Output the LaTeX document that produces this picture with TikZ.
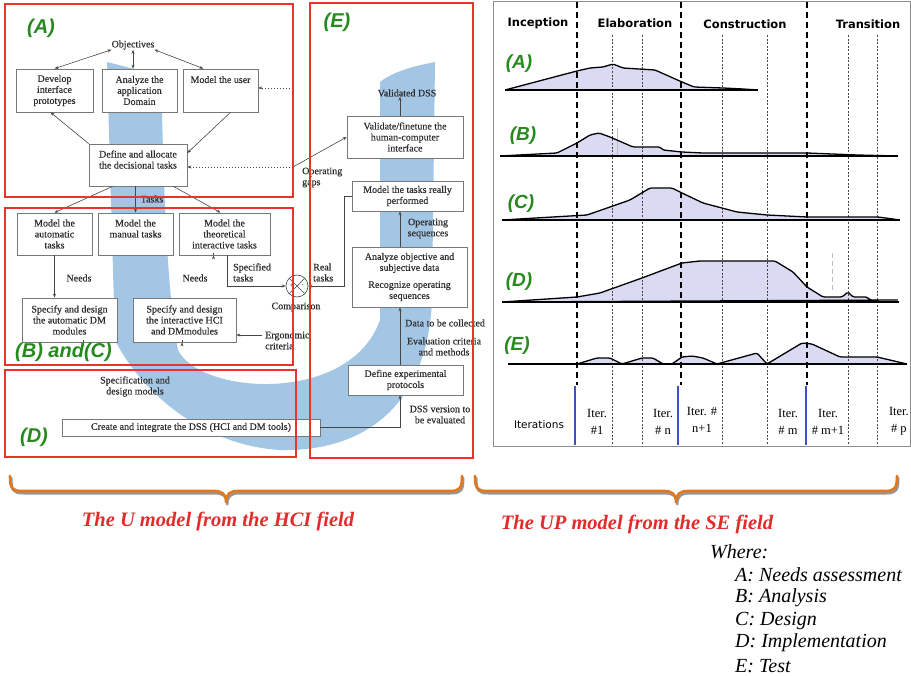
\documentclass[tikz,border=0pt]{standalone}
\usepackage{fontspec}
\setmainfont{Liberation Serif}
\newfontfamily\arialfont{Liberation Sans}
\newfontfamily\phasefont{DejaVu Sans}
\newfontfamily\boxserif[FakeBold=0.35]{Liberation Serif}
\usetikzlibrary{arrows.meta,calc}

\definecolor{framered}{RGB}{232,52,44}
\definecolor{ugreen}{RGB}{38,138,30}
\definecolor{ublue}{RGB}{164,198,229}
\definecolor{boxline}{RGB}{120,120,120}
\definecolor{wire}{RGB}{70,70,70}
\definecolor{boxtext}{RGB}{45,45,45}
\definecolor{lav}{RGB}{218,218,243}
\definecolor{iterblue}{RGB}{60,80,190}
\definecolor{braceorange}{RGB}{228,118,28}
\definecolor{braceshade}{RGB}{150,150,150}
\definecolor{captionred}{RGB}{226,44,44}
\definecolor{panelgray}{RGB}{140,140,140}

\newcommand\diagfont{\boxserif\fontsize{10}{11}\selectfont}

% effort curves of the UP chart (closed along their base line)
\newcommand\upA[1]{\path[#1] (505,90) -- (577,71) -- (590,68) -- (603,67) -- (613,64) -- (623,68) -- (655,70) -- (682,82) -- (694,87) -- (723,88) -- (743,89) -- (758,90) -- cycle;}
\newcommand\upB[1]{\path[#1] (500,156) -- (557,153) -- (577,143) -- (590,135) -- (599,133) -- (610,137) -- (633,147) -- (660,147) -- (663,150) -- (682,152) -- (703,153) -- (807,153) -- (857,155) -- (898,156) -- cycle;}
\newcommand\upC[1]{\path[#1] (502,220) -- (587,215) -- (610,207) -- (630,200) -- (650,188) -- (672,188) -- (682,193) -- (703,203) -- (737,212) -- (767,215) -- (807,217) -- (878,217) -- (900,220) -- cycle;}
\newcommand\upD[1]{\path[#1] (502,302) -- (577,297) -- (600,293) -- (642,278) -- (682,263) -- (700,261) -- (775,261) -- (793,272) -- (807,287) -- (823,297) -- (842,297) -- (848,292) -- (853,297) -- (867,297) -- (870,300) -- (899,300) -- cycle;}
\newcommand\upE[1]{\path[#1] (577,364) -- (597,358) -- (610,358) -- (622,364) -- (642,358) -- (653,358) -- (663,364) -- (672,364) -- (682,357) -- (692,356) -- (703,358) -- (717,364) -- (757,353) -- (767,364) -- (802,343) -- (812,344) -- (840,357) -- (877,357) -- (907,364) -- cycle;}

\begin{document}
\begin{tikzpicture}[x=1pt,y=-1pt,
  ubox/.style={draw=boxline, fill=white, line width=0.7pt, align=center, inner sep=1pt, text=boxtext, font=\diagfont},
  lbl/.style={font=\diagfont, text=boxtext, inner sep=0pt},
  arr/.style={draw=wire, line width=0.6pt, -{Stealth[length=4pt,width=3pt]}},
  darr/.style={draw=wire, line width=0.6pt, {Stealth[length=4pt,width=3pt]}-{Stealth[length=4pt,width=3pt]}},
  dasharr/.style={arr, dash pattern=on 1.5pt off 1.5pt},
  plainline/.style={draw=wire, line width=0.6pt},
  frame/.style={draw=framered, line width=1.3pt},
  glabel/.style={text=ugreen, inner sep=0pt, font=\arialfont\bfseries\itshape\fontsize{20}{22}\selectfont},
  rlabel/.style={text=ugreen, inner sep=0pt, font=\arialfont\bfseries\itshape\fontsize{19}{21}\selectfont},
  phase/.style={inner sep=0pt, font=\phasefont\bfseries\fontsize{11.5}{13}\selectfont},
  iter/.style={inner sep=0pt, align=center, font=\fontsize{12.5}{17}\selectfont},
  effort/.style={fill=lav, rounded corners=1.5pt},
  effortline/.style={draw=black, line width=1.3pt, rounded corners=1.5pt, line join=round},
  baseline/.style={draw=black, line width=1.8pt},
  phasecut/.style={draw=black, line width=1.8pt, dash pattern=on 6pt off 4pt},
  itercut/.style={draw=wire, line width=0.7pt, dash pattern=on 2pt off 1.6pt},
  brace/.style={draw=braceorange, line width=2.6pt, line cap=round, line join=round},
  braceshadow/.style={draw=braceshade, line width=2.6pt, line cap=round, line join=round},
  caption/.style={text=captionred, inner sep=0pt, font=\bfseries\itshape\fontsize{20.5}{23}\selectfont},
  legend/.style={inner sep=0pt, anchor=west, font=\itshape\fontsize{20}{23}\selectfont}
]
\useasboundingbox (0,0) rectangle (911,676);
\fill[white] (0,0) rectangle (911,676);

% ---------------- the U model ----------------
% blue U in the background
\fill[ublue] (107,62) -- (162,76) -- (162,112)
  .. controls (164,200) and (168,300) .. (178,350)
  .. controls (200,395) and (350,405) .. (380,320)
  -- (380,82) .. controls (395,70) and (420,65) .. (435,62)
  -- (432,300) .. controls (428,400) and (370,452) .. (280,450)
  .. controls (200,445) and (140,390) .. (115,340) -- cycle;

% (A) needs assessment
\node[lbl] (obj) at (133,45) {Objectives};
\node[ubox, minimum width=77pt, minimum height=43pt] (dev) at (54.5,90.5) {Develop\\interface\\prototypes};
\node[ubox, minimum width=75pt, minimum height=43pt] (ana) at (139.5,90.5) {Analyze the\\application\\Domain};
\node[ubox, minimum width=75pt, minimum height=43pt] (usr) at (220.5,90.5) {Model the user\\\mbox{}\\\mbox{}};
\node[ubox, minimum width=98pt, minimum height=42pt] (def) at (138,165) {Define and allocate\\the decisional tasks\\\mbox{}};

% (B) and (C) analysis and design
\node[ubox, minimum width=75pt, minimum height=42pt] (aut) at (54.5,234) {Model the\\automatic\\tasks};
\node[ubox, minimum width=75pt, minimum height=42pt] (man) at (135.5,234) {Model the\\manual tasks\\\mbox{}};
\node[ubox, minimum width=91pt, minimum height=42pt] (the) at (224.5,234) {Model the\\theoretical\\interactive tasks};
\node[ubox, minimum width=95pt, minimum height=44pt] (sda) at (69.5,320) {Specify and design\\the automatic DM\\modules};
\node[ubox, minimum width=103pt, minimum height=44pt] (sdi) at (184.5,320) {Specify and design\\the interactive HCI\\and DMmodules};
\node[circle, draw=wire, line width=0.6pt, fill=white, minimum size=22pt, inner sep=0pt] (cmp) at (297,286) {};
\draw[plainline] (cmp.north west) -- (cmp.south east) (cmp.north east) -- (cmp.south west);
\node[inner sep=0pt, font=\fontsize{6}{6}\selectfont] (cmpplus) at (291.5,286) {+};
\node[inner sep=0pt, font=\fontsize{6}{6}\selectfont] (cmpminus) at (302.5,286) {-};

% (D) implementation
\node[ubox, minimum width=258pt, minimum height=17pt] (cre) at (191,427.5) {Create and integrate the DSS (HCI and DM tools)};

% (E) test
\node[ubox, minimum width=116pt, minimum height=42pt] (val) at (405,137) {Validate/finetune the\\human-computer\\interface};
\node[ubox, minimum width=111pt, minimum height=30pt] (mtr) at (407.5,196) {Model the tasks really\\performed};
\node[ubox, minimum width=115pt, minimum height=60pt] (anz) at (409.5,277) {Analyze objective and\\subjective data\\[6pt]Recognize operating\\sequences};
\node[ubox, minimum width=115pt, minimum height=30pt] (pro) at (405.5,380) {Define experimental\\protocols};
\node[lbl] (vdss) at (407,93) {Validated DSS};

% text on the connectors
\node[lbl] (tasks) at (152,199) {Tasks};
\node[lbl] (needs1) at (79,278) {Needs};
\node[lbl] (needs2) at (195,278) {Needs};
\node[lbl, align=left, anchor=west] (spec) at (233,272.5) {Specified\\tasks};
\node[lbl] (cmptxt) at (296,307) {Comparison};
\node[lbl, align=left, anchor=west] (real) at (313,272.5) {Real\\tasks};
\node[lbl, align=left, anchor=west] (erg) at (265,340.5) {Ergonomic\\criteria};
\node[lbl, align=center] (sdm) at (135,386.5) {Specification and\\design models};
\node[lbl, align=center] (dssv) at (440,414.5) {DSS version to\\be evaluated};
\node[lbl, align=left, anchor=west] (ogaps) at (302,177.5) {Operating\\gaps};
\node[lbl, align=center] (oseq) at (428,228.5) {Operating\\sequences};
\node[lbl, anchor=west] (data) at (405,323) {Data to be collected};
\node[lbl, align=center] (evalc) at (444,346.5) {Evaluation criteria\\and methods};

% connectors
\coordinate (gaptop) at (293,88);
\coordinate (gapjoin) at (293,167);
\coordinate (axis) at (400,0);
\coordinate (ergo) at (262,335);

\draw[darr] (obj.south west) -- (dev.north);
\draw[darr] (obj.south) -- (obj.south |- ana.north);
\draw[darr] (obj.south east) -- ($(usr.north)+(-17,0)$);
\draw[arr] (def.north west) -- ($(dev.south)+(-4,0)$);
\draw[arr] ($(usr.south)+(10,0)$) -- ($(def.east)+(0,-12)$);
\draw[dash pattern=on 1.5pt off 1.5pt, draw=wire, line width=0.6pt] (gaptop) -- (gapjoin);
\draw[dasharr] (gaptop) -- (gaptop -| usr.east);
\draw[dasharr] (gapjoin) -- (gapjoin -| def.east);
\draw[arr] (gapjoin) -- (val.west);

\draw[arr] ($(def.south west)+(24,0)$) -- (aut.north);
\draw[arr] (man.north |- def.south) -- (man.north);
\draw[arr] ($(def.south east)+(-14,0)$) -- ($(the.north)+(-4,0)$);
\draw[arr] (aut.south) -- (aut.south |- sda.north);
\draw[arr] ($(the.south)+(-11,0)$) -- ($(the.south)+(-11,0)$ |- sdi.north);
\draw[arr] ($(the.south)+(3,0)$) |- (cmp.west);
\draw[arr] (mtr.west) -- ++(-7,0) |- (cmp.east);
\draw[arr] (ergo) -- (ergo -| sdi.east);

\draw[arr] ($(sda.south)+(13.5,0)$) -- ($(sda.south)+(13.5,0)$ |- cre.north);
\draw[arr] ($(sdi.south)+(-2.5,0)$) -- ($(sdi.south)+(-2.5,0)$ |- cre.north);
\draw[arr] (cre.east) -| (axis |- pro.south);
\draw[arr] (axis |- pro.north) -- (axis |- anz.south);
\draw[arr] (axis |- anz.north) -- (axis |- mtr.south);
\draw[arr] (axis |- val.north) -- (axis |- vdss.south);

% red frames of the phases
\draw[frame] (5,4) rectangle (293,197);
\draw[frame] (5,208) rectangle (293,365);
\draw[frame] (5,370) rectangle (296,457);
\draw[frame] (310,3) rectangle (473,458);
\node[glabel] (la) at (41,28) {(A)};
\node[glabel, anchor=west] (lbc) at (15,352) {(B) and(C)};
\node[glabel] (ld) at (34,437) {(D)};
\node[glabel] (le) at (337,22) {(E)};

% ---------------- the UP model ----------------
\draw[draw=panelgray, line width=1pt] (493,2) rectangle (910,446);

\upA{effort} \upB{effort} \upC{effort} \upD{effort} \upE{effort}

\draw[draw=black!25, line width=0.8pt] (617,128) -- (617,155);
\draw[draw=black!25, line width=0.8pt, dash pattern=on 5pt off 3pt] (832,253) -- (832,293);

\foreach \x in {612,642,722,767,848,877} \draw[itercut] (\x,35) -- (\x,445);
\foreach \x in {577,681,807} \draw[phasecut] (\x,2) -- (\x,385);
\foreach \x in {575,678,806} \draw[iterblue, line width=1.8pt] (\x,386) -- (\x,445);

\upA{effortline} \upB{effortline} \upC{effortline} \upD{effortline} \upE{effortline}
\draw[baseline] (505,90) -- (758,90);
\draw[baseline] (500,156) -- (898,156);
\draw[baseline] (502,220) -- (900,220);
\draw[baseline] (502,302) -- (899,302);
\draw[baseline] (508,364) -- (907,364);

\node[phase] (inc) at (538,23) {Inception};
\node[phase] (ela) at (635,23) {Elaboration};
\node[phase] (con) at (745,24) {Construction};
\node[phase] (tra) at (868,24) {Transition};

\node[rlabel] (ra) at (519,64) {(A)};
\node[rlabel] (rb) at (523,136) {(B)};
\node[rlabel] (rc) at (521,204) {(C)};
\node[rlabel] (rd) at (519,282) {(D)};
\node[rlabel] (re) at (517,346) {(E)};

\node[inner sep=0pt, font=\phasefont\fontsize{10.5}{12}\selectfont] (its) at (539,425) {Iterations};
\node[iter] (i1) at (597,421.5) {Iter.\\\#1};
\node[iter] (in) at (663,421.5) {Iter.\\\# n};
\node[iter] (in1) at (702,420) {Iter. \#\\n+1};
\node[iter] (im) at (788,421.5) {Iter.\\\# m};
\node[iter] (im1) at (828,421.5) {Iter.\\\# m+1};
\node[iter, anchor=east] (ip) at (909,421.5) {Iter.\\\# p};

% ---------------- braces, captions and legend ----------------
\begin{scope}[shift={(1.2,2.2)}]
\draw[braceshadow] (10,476) .. controls (10,488) and (12,491) .. (22,491) -- (214,491)
  .. controls (222,491) and (226,494) .. (226,502) .. controls (226,494) and (230,491) .. (238,491)
  -- (450,491) .. controls (460,491) and (462,488) .. (462,476);
\draw[braceshadow] (475,476) .. controls (475,488) and (477,491) .. (487,491) -- (664,491)
  .. controls (672,491) and (676,494) .. (676,502) .. controls (676,494) and (680,491) .. (688,491)
  -- (885,491) .. controls (895,491) and (897,488) .. (897,476);
\end{scope}
\draw[brace] (10,476) .. controls (10,488) and (12,491) .. (22,491) -- (214,491)
  .. controls (222,491) and (226,494) .. (226,502) .. controls (226,494) and (230,491) .. (238,491)
  -- (450,491) .. controls (460,491) and (462,488) .. (462,476);
\draw[brace] (475,476) .. controls (475,488) and (477,491) .. (487,491) -- (664,491)
  .. controls (672,491) and (676,494) .. (676,502) .. controls (676,494) and (680,491) .. (688,491)
  -- (885,491) .. controls (895,491) and (897,488) .. (897,476);

\node[caption] (capu) at (218,521) {The U model from the HCI field};
\node[caption] (capup) at (637,524) {The UP model from the SE field};

\node[legend] (where) at (710,552) {Where:};
\node[legend] (lga) at (735,575) {A: Needs assessment};
\node[legend] (lgb) at (735,598) {B: Analysis};
\node[legend] (lgc) at (735,621) {C: Design};
\node[legend] (lgd) at (735,643) {D: Implementation};
\node[legend] (lge) at (735,666) {E: Test};
\end{tikzpicture}
\end{document}
